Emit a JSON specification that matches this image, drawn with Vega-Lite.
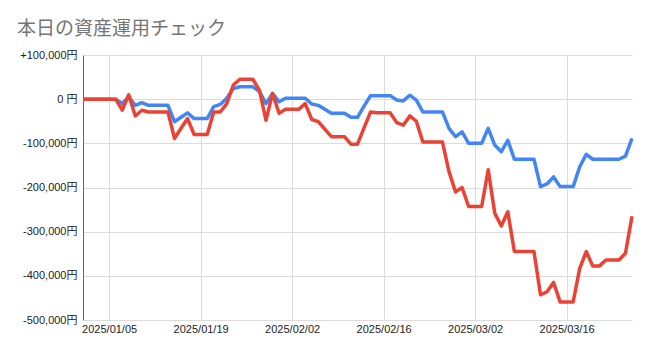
{
  "$schema": "https://vega.github.io/schema/vega-lite/v6.json",
  "autosize": {"type": "none"},
  "padding": {"left": 83, "top": 55, "right": 18, "bottom": 36},
  "width": 549,
  "height": 265,
  "background": "white",
  "title": {
    "text": "本日の資産運用チェック",
    "anchor": "start",
    "frame": "group",
    "dx": -66,
    "offset": 10,
    "font": "Noto Sans CJK JP",
    "fontSize": 19,
    "fontWeight": "normal",
    "color": "#757575"
  },
  "config": {
    "view": {"stroke": null},
    "axis": {"labelFont": "Liberation Sans, Noto Sans CJK JP", "labelFontSize": 11, "labelColor": "#222222"}
  },
  "data": {
    "values": [
      {"date": "2025-01-01", "blue": 0, "red": 0},
      {"date": "2025-01-02", "blue": 0, "red": 0},
      {"date": "2025-01-03", "blue": 0, "red": 0},
      {"date": "2025-01-04", "blue": 0, "red": 0},
      {"date": "2025-01-05", "blue": 0, "red": 0},
      {"date": "2025-01-06", "blue": 0, "red": 0},
      {"date": "2025-01-07", "blue": -10000, "red": -25000},
      {"date": "2025-01-08", "blue": 5000, "red": 10000},
      {"date": "2025-01-09", "blue": -14000, "red": -38000},
      {"date": "2025-01-10", "blue": -8000, "red": -25000},
      {"date": "2025-01-11", "blue": -14000, "red": -29000},
      {"date": "2025-01-12", "blue": -14000, "red": -29000},
      {"date": "2025-01-13", "blue": -14000, "red": -29000},
      {"date": "2025-01-14", "blue": -14000, "red": -29000},
      {"date": "2025-01-15", "blue": -51000, "red": -89000},
      {"date": "2025-01-16", "blue": -41000, "red": -66000},
      {"date": "2025-01-17", "blue": -31000, "red": -44000},
      {"date": "2025-01-18", "blue": -44000, "red": -80000},
      {"date": "2025-01-19", "blue": -44000, "red": -80000},
      {"date": "2025-01-20", "blue": -44000, "red": -80000},
      {"date": "2025-01-21", "blue": -17000, "red": -29000},
      {"date": "2025-01-22", "blue": -12000, "red": -29000},
      {"date": "2025-01-23", "blue": 2000, "red": -10000},
      {"date": "2025-01-24", "blue": 24000, "red": 32000},
      {"date": "2025-01-25", "blue": 28000, "red": 45000},
      {"date": "2025-01-26", "blue": 28000, "red": 45000},
      {"date": "2025-01-27", "blue": 28000, "red": 45000},
      {"date": "2025-01-28", "blue": 17000, "red": 20000},
      {"date": "2025-01-29", "blue": -10000, "red": -48000},
      {"date": "2025-01-30", "blue": 13000, "red": 13000},
      {"date": "2025-01-31", "blue": -6000, "red": -32000},
      {"date": "2025-02-01", "blue": 2000, "red": -23000},
      {"date": "2025-02-02", "blue": 2000, "red": -23000},
      {"date": "2025-02-03", "blue": 2000, "red": -23000},
      {"date": "2025-02-04", "blue": 2000, "red": -10000},
      {"date": "2025-02-05", "blue": -11000, "red": -46000},
      {"date": "2025-02-06", "blue": -14000, "red": -51000},
      {"date": "2025-02-07", "blue": -23000, "red": -68000},
      {"date": "2025-02-08", "blue": -32000, "red": -85000},
      {"date": "2025-02-09", "blue": -32000, "red": -85000},
      {"date": "2025-02-10", "blue": -32000, "red": -85000},
      {"date": "2025-02-11", "blue": -41000, "red": -102000},
      {"date": "2025-02-12", "blue": -41000, "red": -102000},
      {"date": "2025-02-13", "blue": -16000, "red": -65000},
      {"date": "2025-02-14", "blue": 8000, "red": -29000},
      {"date": "2025-02-15", "blue": 8000, "red": -31000},
      {"date": "2025-02-16", "blue": 8000, "red": -31000},
      {"date": "2025-02-17", "blue": 8000, "red": -31000},
      {"date": "2025-02-18", "blue": -2000, "red": -53000},
      {"date": "2025-02-19", "blue": -4000, "red": -59000},
      {"date": "2025-02-20", "blue": 9000, "red": -38000},
      {"date": "2025-02-21", "blue": -2000, "red": -50000},
      {"date": "2025-02-22", "blue": -29000, "red": -97000},
      {"date": "2025-02-23", "blue": -29000, "red": -97000},
      {"date": "2025-02-24", "blue": -29000, "red": -97000},
      {"date": "2025-02-25", "blue": -29000, "red": -97000},
      {"date": "2025-02-26", "blue": -66000, "red": -164000},
      {"date": "2025-02-27", "blue": -85000, "red": -210000},
      {"date": "2025-02-28", "blue": -74000, "red": -200000},
      {"date": "2025-03-01", "blue": -100000, "red": -243000},
      {"date": "2025-03-02", "blue": -100000, "red": -243000},
      {"date": "2025-03-03", "blue": -100000, "red": -243000},
      {"date": "2025-03-04", "blue": -66000, "red": -160000},
      {"date": "2025-03-05", "blue": -104000, "red": -258000},
      {"date": "2025-03-06", "blue": -119000, "red": -287000},
      {"date": "2025-03-07", "blue": -93000, "red": -255000},
      {"date": "2025-03-08", "blue": -136000, "red": -345000},
      {"date": "2025-03-09", "blue": -136000, "red": -345000},
      {"date": "2025-03-10", "blue": -136000, "red": -345000},
      {"date": "2025-03-11", "blue": -136000, "red": -345000},
      {"date": "2025-03-12", "blue": -198000, "red": -443000},
      {"date": "2025-03-13", "blue": -192000, "red": -436000},
      {"date": "2025-03-14", "blue": -176000, "red": -415000},
      {"date": "2025-03-15", "blue": -198000, "red": -459000},
      {"date": "2025-03-16", "blue": -198000, "red": -459000},
      {"date": "2025-03-17", "blue": -198000, "red": -459000},
      {"date": "2025-03-18", "blue": -153000, "red": -383000},
      {"date": "2025-03-19", "blue": -125000, "red": -345000},
      {"date": "2025-03-20", "blue": -136000, "red": -378000},
      {"date": "2025-03-21", "blue": -136000, "red": -378000},
      {"date": "2025-03-22", "blue": -136000, "red": -364000},
      {"date": "2025-03-23", "blue": -136000, "red": -364000},
      {"date": "2025-03-24", "blue": -136000, "red": -364000},
      {"date": "2025-03-25", "blue": -129000, "red": -349000},
      {"date": "2025-03-26", "blue": -89000, "red": -265000}
    ]
  },
  "encoding": {
    "x": {
      "field": "date",
      "type": "temporal",
      "scale": {
        "type": "utc",
        "domain": [
          {"year": 2025, "month": 1, "date": 1, "utc": true},
          {"year": 2025, "month": 3, "date": 26, "utc": true}
        ]
      },
      "axis": {
        "title": null,
        "values": [
          {"year": 2025, "month": 1, "date": 5, "utc": true},
          {"year": 2025, "month": 1, "date": 19, "utc": true},
          {"year": 2025, "month": 2, "date": 2, "utc": true},
          {"year": 2025, "month": 2, "date": 16, "utc": true},
          {"year": 2025, "month": 3, "date": 2, "utc": true},
          {"year": 2025, "month": 3, "date": 16, "utc": true}
        ],
        "labelExpr": "utcFormat(datum.value, '%Y/%m/%d')",
        "labelFlush": false,
        "labelOverlap": false,
        "ticks": false,
        "domain": false,
        "grid": true,
        "gridColor": "#dcdcdc",
        "labelPadding": 3
      }
    }
  },
  "layer": [
    {
      "mark": {"type": "rule", "color": "#333333", "strokeWidth": 1},
      "encoding": {"y": {"datum": 0}}
    },
    {
      "mark": {"type": "line", "color": "#4285F4", "strokeWidth": 3.5, "strokeJoin": "round"},
      "encoding": {
        "y": {
          "field": "blue",
          "type": "quantitative",
          "scale": {"domain": [-500000, 100000], "nice": false, "zero": false},
          "axis": {
            "title": null,
            "values": [-500000, -450000, -400000, -350000, -300000, -250000, -200000, -150000, -100000, -50000, 0, 50000, 100000],
            "labelExpr": "datum.value % 100000 != 0 ? '' : (datum.value > 0 ? '+' + format(datum.value, ',') + '円' : (datum.value == 0 ? '0 円' : '-' + format(-datum.value, ',') + '円'))",
            "ticks": false,
            "domain": true,
            "domainColor": "#666666",
            "grid": true,
            "gridColor": "#dcdcdc",
            "labelPadding": 6
          }
        }
      }
    },
    {
      "mark": {"type": "line", "color": "#EA4335", "strokeWidth": 3.5, "strokeJoin": "round"},
      "encoding": {
        "y": {"field": "red", "type": "quantitative"}
      }
    }
  ]
}
